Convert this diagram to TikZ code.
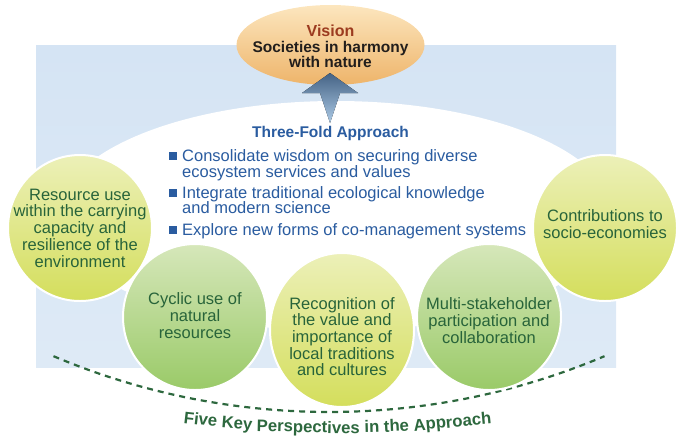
\documentclass[tikz,border=0pt]{standalone}
\usepackage{fontspec}
\setmainfont{Liberation Sans}
\usetikzlibrary{shapes.geometric}
\definecolor{bgblue}{RGB}{213,228,244}
\definecolor{bgblue2}{RGB}{222,234,246}
\definecolor{yelA}{RGB}{236,240,184}
\definecolor{yelB}{RGB}{212,222,92}
\definecolor{grnA}{RGB}{214,231,186}
\definecolor{grnB}{RGB}{154,202,104}
\definecolor{visA}{RGB}{252,230,190}
\definecolor{visB}{RGB}{238,180,106}
\definecolor{arrA}{RGB}{68,98,132}
\definecolor{arrB}{RGB}{172,202,230}
\definecolor{txtblue}{RGB}{42,92,160}
\definecolor{txtgreen}{RGB}{40,100,58}
\definecolor{keygreen}{RGB}{45,104,62}
\definecolor{visred}{RGB}{156,59,31}
\definecolor{vistxt}{RGB}{34,30,28}
\tikzset{
  persp/.style={ellipse, draw=white, line width=2pt, inner sep=0pt,
    minimum width=144pt, minimum height=146pt},
  yel/.style={persp, top color=yelA, bottom color=yelB},
  grn/.style={persp, top color=grnA, bottom color=grnB},
  ctext/.style={align=center, text=txtgreen, inner sep=0pt,
    font=\fontsize{16.5}{16.7}\selectfont},
  btext/.style={anchor=base west, text=txtblue, inner sep=0pt,
    font=\fontsize{16.5}{16.5}\selectfont},
  bulletsq/.style={fill=txtblue, minimum size=8pt, inner sep=0pt},
  vtext/.style={anchor=base, inner sep=0pt, text=vistxt,
    font=\fontsize{15.5}{15.5}\selectfont\bfseries},
  keyword/.style={anchor=base, inner sep=0pt, text=keygreen,
    font=\fontsize{16.7}{16.7}\selectfont\bfseries, rotate=#1}
}
\begin{document}
\begin{tikzpicture}[x=1pt,y=-1pt]
\useasboundingbox (0,0) rectangle (684,437);
% background panel
\fill[top color=bgblue, bottom color=bgblue2] (36,45) rectangle (616,367);
\fill[white] (336,216) ellipse [x radius=278, y radius=115];
% vision
\node[ellipse, minimum width=188pt, minimum height=80pt, inner sep=0pt,
  top color=visA, bottom color=visB] (vision) at (330.5,45) {};
\node[vtext, text=visred, font=\fontsize{16}{16}\selectfont\bfseries] (vt1) at (330.5,36) {Vision};
\node[vtext] (vt2) at (330.5,52) {Societies in harmony};
\node[vtext] (vt3) at (330.5,67) {with nature};
% arrow
\fill[top color=arrA, bottom color=arrB] (330,73) -- (358,93) -- (340,93) -- (330,123)
  -- (320,93) -- (302,93) -- cycle;
% three-fold approach
\node[anchor=base, inner sep=0pt, text=txtblue, font=\fontsize{15.5}{15.5}\selectfont\bfseries] (tf) at (330.5,137) {Three-Fold Approach};
\node[bulletsq] (b1) at (173,156) {};
\node[btext] (l1) at (182,161) {Consolidate wisdom on securing diverse};
\node[btext] (l2) at (182,177) {ecosystem services and values};
\node[bulletsq] (b2) at (173,193) {};
\node[btext] (l3) at (182,198) {Integrate traditional ecological knowledge};
\node[btext] (l4) at (182,213) {and modern science};
\node[bulletsq] (b3) at (173,230) {};
\node[btext] (l5) at (182,235) {Explore new forms of co-management systems};
% dashed arc
\draw[keygreen, line width=2.2pt, dash pattern=on 6pt off 5pt]
  plot[smooth, domain=-22.9:22.9, samples=60] ({329+708*sin(\x)},{-296+708*cos(\x)});
% curved caption, word by word along an arc (centre (337.5,-767), radius 1200)
\node[keyword=-6.58] (k1) at ({337.5+1200*sin(-6.58)},{-767+1200*cos(-6.58)}) {Five};
\node[keyword=-4.82] (k2) at ({337.5+1200*sin(-4.82)},{-767+1200*cos(-4.82)}) {Key};
\node[keyword=-1.40] (k3) at ({337.5+1200*sin(-1.40)},{-767+1200*cos(-1.40)}) {Perspectives};
\node[keyword=1.65] (k4) at ({337.5+1200*sin(1.65)},{-767+1200*cos(1.65)}) {in};
\node[keyword=2.83] (k5) at ({337.5+1200*sin(2.83)},{-767+1200*cos(2.83)}) {the};
\node[keyword=5.52] (k6) at ({337.5+1200*sin(5.52)},{-767+1200*cos(5.52)}) {Approach};
% perspectives
\node[yel] (p1) at (80,228) {};
\node[yel] (p5) at (605,228) {};
\node[grn] (p2) at (195,317) {};
\node[grn] (p4) at (489,317) {};
\node[yel, minimum height=154pt] (p3) at (342,330) {};
\node[ctext] (t1) at (80,228) {Resource use\\within the carrying\\capacity and\\resilience of the\\environment};
\node[ctext] (t5) at (605,224) {Contributions to\\socio-economies};
\node[ctext] (t2) at (195,315.5) {Cyclic use of\\natural\\resources};
\node[ctext] (t4) at (489,320.5) {Multi-stakeholder\\participation and\\collaboration};
\node[ctext] (t3) at (342,336.5) {Recognition of\\the value and\\importance of\\local traditions\\and cultures};
\end{tikzpicture}
\end{document}
